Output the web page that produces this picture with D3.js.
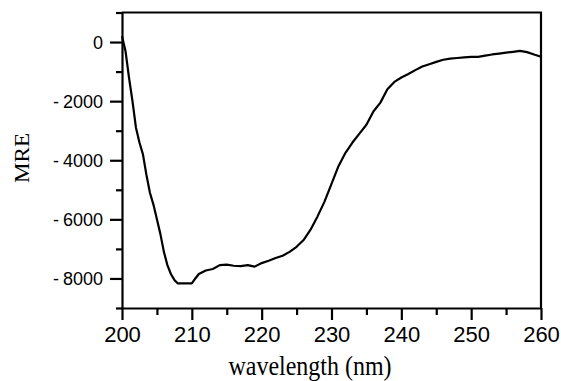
<!DOCTYPE html>
<html>
<head>
<meta charset="utf-8">
<script src="https://cdn.jsdelivr.net/npm/d3@7/dist/d3.min.js"></script>
<style>
  html, body { margin: 0; padding: 0; background: #fff; }
  svg { display: block; }
  .tick-y { font-family: "Liberation Sans", Arial, sans-serif; font-size: 18px; fill: #000; }
  .tick-x { font-family: "Liberation Sans", Arial, sans-serif; font-size: 22px; fill: #000; }
  .title { font-family: "Liberation Serif", "Times New Roman", serif; fill: #000; }
</style>
</head>
<body>
<div id="chart"></div>
<script>
// CD spectrum
const wavelength = [200, 200.5, 201, 201.5, 202, 202.5, 203, 203.5, 204, 204.5, 205, 205.5, 206, 206.5, 207, 207.5, 208, 209, 210, 210.5,
  211, 212, 213, 214, 215, 216, 217, 218, 219, 220, 221, 222, 223, 224, 225, 226, 227, 228, 229, 230,
  231, 232, 233, 234, 235, 236, 237, 238, 239, 240, 241, 242, 243, 244, 245, 246, 247, 248, 249, 250,
  251, 252, 253, 254, 255, 256, 257, 258, 259, 260];
const mre = [200, -300, -1200, -2000, -2900, -3400, -3800, -4500, -5100, -5500, -6000, -6500, -7100, -7550, -7850, -8050, -8170, -8170, -8170, -8000,
  -7850, -7730, -7680, -7550, -7530, -7570, -7580, -7550, -7600, -7480, -7400, -7310, -7230, -7100, -6930, -6700, -6350, -5900, -5400, -4800,
  -4200, -3750, -3400, -3100, -2800, -2350, -2050, -1600, -1350, -1200, -1080, -950, -830, -750, -670, -600, -560, -540, -520, -500,
  -500, -460, -420, -390, -360, -330, -300, -340, -420, -500];

const xMajor = [200, 210, 220, 230, 240, 250, 260];
const xMinor = [205, 215, 225, 235, 245, 255];
const yMajor = [0, -2000, -4000, -6000, -8000];
const yMinor = [1000, -1000, -3000, -5000, -7000, -9000];

const W = 561, H = 381;
const mLeft = 122, mRight = 541, mTop = 12.5, mBottom = 308;

const svg = d3.select('#chart').append('svg')
  .attr('width', W).attr('height', H);
svg.append('rect').attr('width', W).attr('height', H).attr('fill', '#fff');

const x = d3.scaleLinear().domain([200, 260]).range([mLeft, mRight]);
const y = d3.scaleLinear().domain([-9000, 1000]).range([mBottom, mTop]);

// frame top / right
svg.append('path')
  .attr('d', `M${mLeft},${mTop}H${mRight}V${mBottom}`)
  .attr('fill', 'none').attr('stroke', '#000').attr('stroke-width', 2.2);

// bottom axis
const gx = svg.append('g').attr('transform', `translate(0,${mBottom})`);
gx.call(d3.axisBottom(x).tickValues(xMajor).tickSize(12).tickSizeOuter(0).tickPadding(5).tickFormat(d => String(d)));
gx.append('g').call(d3.axisBottom(x).tickValues(xMinor).tickSize(7).tickSizeOuter(0).tickFormat(''))
  .select('.domain').remove();
gx.selectAll('line, path').attr('stroke', '#000').attr('stroke-width', 2.2);
gx.selectAll('text').attr('class', 'tick-x').attr('font-size', null).attr('font-family', null).attr('dy', '0.78em');

// left axis (plain hyphen, a little gap after it like the original)
const gy = svg.append('g').attr('transform', `translate(${mLeft},0)`);
gy.call(d3.axisLeft(y).tickValues(yMajor).tickSize(12).tickSizeOuter(0).tickPadding(7).tickFormat(d => String(d)));
gy.append('g').call(d3.axisLeft(y).tickValues(yMinor).tickSize(6).tickSizeOuter(0).tickFormat(''))
  .select('.domain').remove();
gy.selectAll('line, path').attr('stroke', '#000').attr('stroke-width', 2.2);
gy.selectAll('.tick text').each(function(d) {
  const t = d3.select(this).attr('class', 'tick-y').attr('font-size', null).attr('font-family', null).attr('dy', '0.36em');
  const s = t.text();
  if (s.startsWith('-')) {
    t.text(null);
    t.append('tspan').text('-');
    t.append('tspan').attr('dx', 4).text(s.slice(1));
  }
});

// curve
const pts = wavelength.map((w, i) => [w, mre[i]]);
svg.append('path')
  .datum(pts)
  .attr('fill', 'none')
  .attr('stroke', '#000')
  .attr('stroke-width', 2.2)
  .attr('stroke-linejoin', 'round')
  .attr('d', d3.line().x(d => x(d[0])).y(d => y(d[1])));

// titles
svg.append('text')
  .attr('class', 'title')
  .attr('transform', 'translate(28.5,158) rotate(-90)')
  .attr('text-anchor', 'middle')
  .attr('font-size', 20)
  .attr('textLength', 50)
  .attr('lengthAdjust', 'spacingAndGlyphs')
  .text('MRE');

svg.append('text')
  .attr('class', 'title')
  .attr('transform', 'translate(310,375) scale(1,1.25)')
  .attr('text-anchor', 'middle')
  .attr('font-size', 22)
  .attr('textLength', 163)
  .attr('lengthAdjust', 'spacingAndGlyphs')
  .text('wavelength (nm)');
</script>
</body>
</html>
